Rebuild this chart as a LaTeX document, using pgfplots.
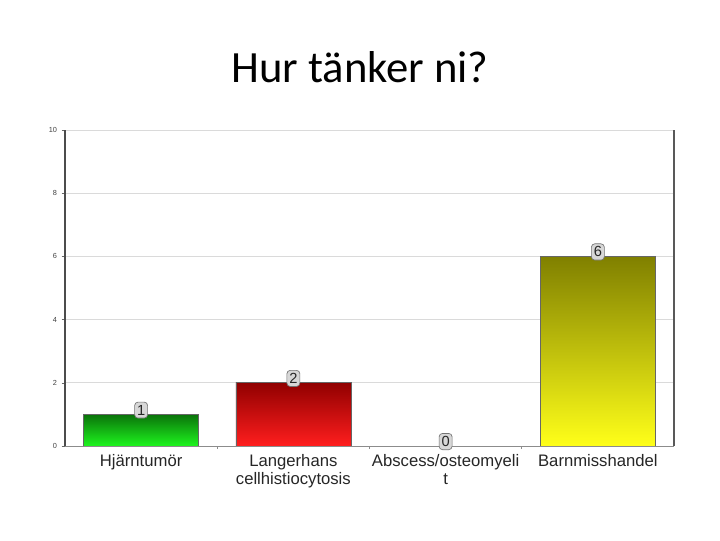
\documentclass[border=0pt]{standalone}
\usepackage{fontspec}
\setmainfont{Liberation Sans}
\newfontfamily\titlefont{Carlito}
\usepackage{pgfplots}
\pgfplotsset{compat=1.18}
\definecolor{gtop}{RGB}{10,115,10}
\definecolor{gbot}{RGB}{30,245,30}
\definecolor{rtop}{RGB}{145,0,0}
\definecolor{rbot}{RGB}{255,30,30}
\definecolor{ytop}{RGB}{128,128,0}
\definecolor{ybot}{RGB}{255,255,25}
\definecolor{boxfill}{RGB}{215,215,215}
\definecolor{gridc}{RGB}{218,218,218}

\begin{document}
\begin{tikzpicture}
\path (0,0) rectangle (540pt,405pt);
\node[font=\titlefont\fontsize{33.5}{38}\selectfont, anchor=base] at (270pt,342.75pt) {Hur tänker ni?};
\begin{axis}[
  at={(48.75pt,70.5pt)}, anchor=south west,
  scale only axis, width=456.75pt, height=237pt,
  xmin=-0.5, xmax=3.5, ymin=0, ymax=10,
  ytick={0,2,...,10}, xtick={0,1,2,3}, ytick pos=left,
  xticklabels={Hjärntumör,{Langerhans\\cellhistiocytosis},{Abscess/osteomyeli\\t},Barnmisshandel},
  xticklabel style={font=\fontsize{12.5}{13.5}\selectfont, text=black!85, align=center},
  yticklabel style={font=\fontsize{5.5}{6}\selectfont, text=black!75},
  /pgf/number format/assume math mode=true,
  ymajorgrids, grid style={gridc, line width=0.6pt},
  axis line style={draw=none},
  xtick style={draw=none},
  ytick style={black!60, line width=0.4pt}, major tick length=2.5pt,
  tick align=outside,
  ybar, bar width=0.755, bar shift=0pt,
  nodes near coords,
  every node near coord/.append style={font=\fontsize{11}{11}\selectfont, fill=boxfill, draw=black!55,
    rounded corners=2.5pt, inner xsep=1.8pt, inner ysep=2.2pt, anchor=south, yshift=-3pt, text=black!85},
  clip=false,
]
\addplot[draw=black!60, line width=0.5pt, top color=gtop, bottom color=gbot] coordinates {(0,1)};
\addplot[draw=black!60, line width=0.5pt, top color=rtop, bottom color=rbot] coordinates {(1,2)};
\addplot[draw=black!40, line width=0.5pt, fill=black!40] coordinates {(2,0)};
\addplot[draw=black!60, line width=0.5pt, top color=ytop, bottom color=ybot] coordinates {(3,6)};
\draw[black!70, line width=1.4pt] (axis cs:-0.5,0) -- (axis cs:-0.5,10);
\draw[black!65, line width=1.4pt] (axis cs:3.5,0) -- (axis cs:3.5,10);
\draw[black!45, line width=0.6pt] (axis cs:-0.5,0) -- (axis cs:3.5,0);
\draw[black!45, line width=0.6pt] (axis cs:0.5,0) -- (axis cs:0.5,-0.1);
\draw[black!45, line width=0.6pt] (axis cs:1.5,0) -- (axis cs:1.5,-0.1);
\draw[black!45, line width=0.6pt] (axis cs:2.5,0) -- (axis cs:2.5,-0.1);
\end{axis}
\end{tikzpicture}
\end{document}
